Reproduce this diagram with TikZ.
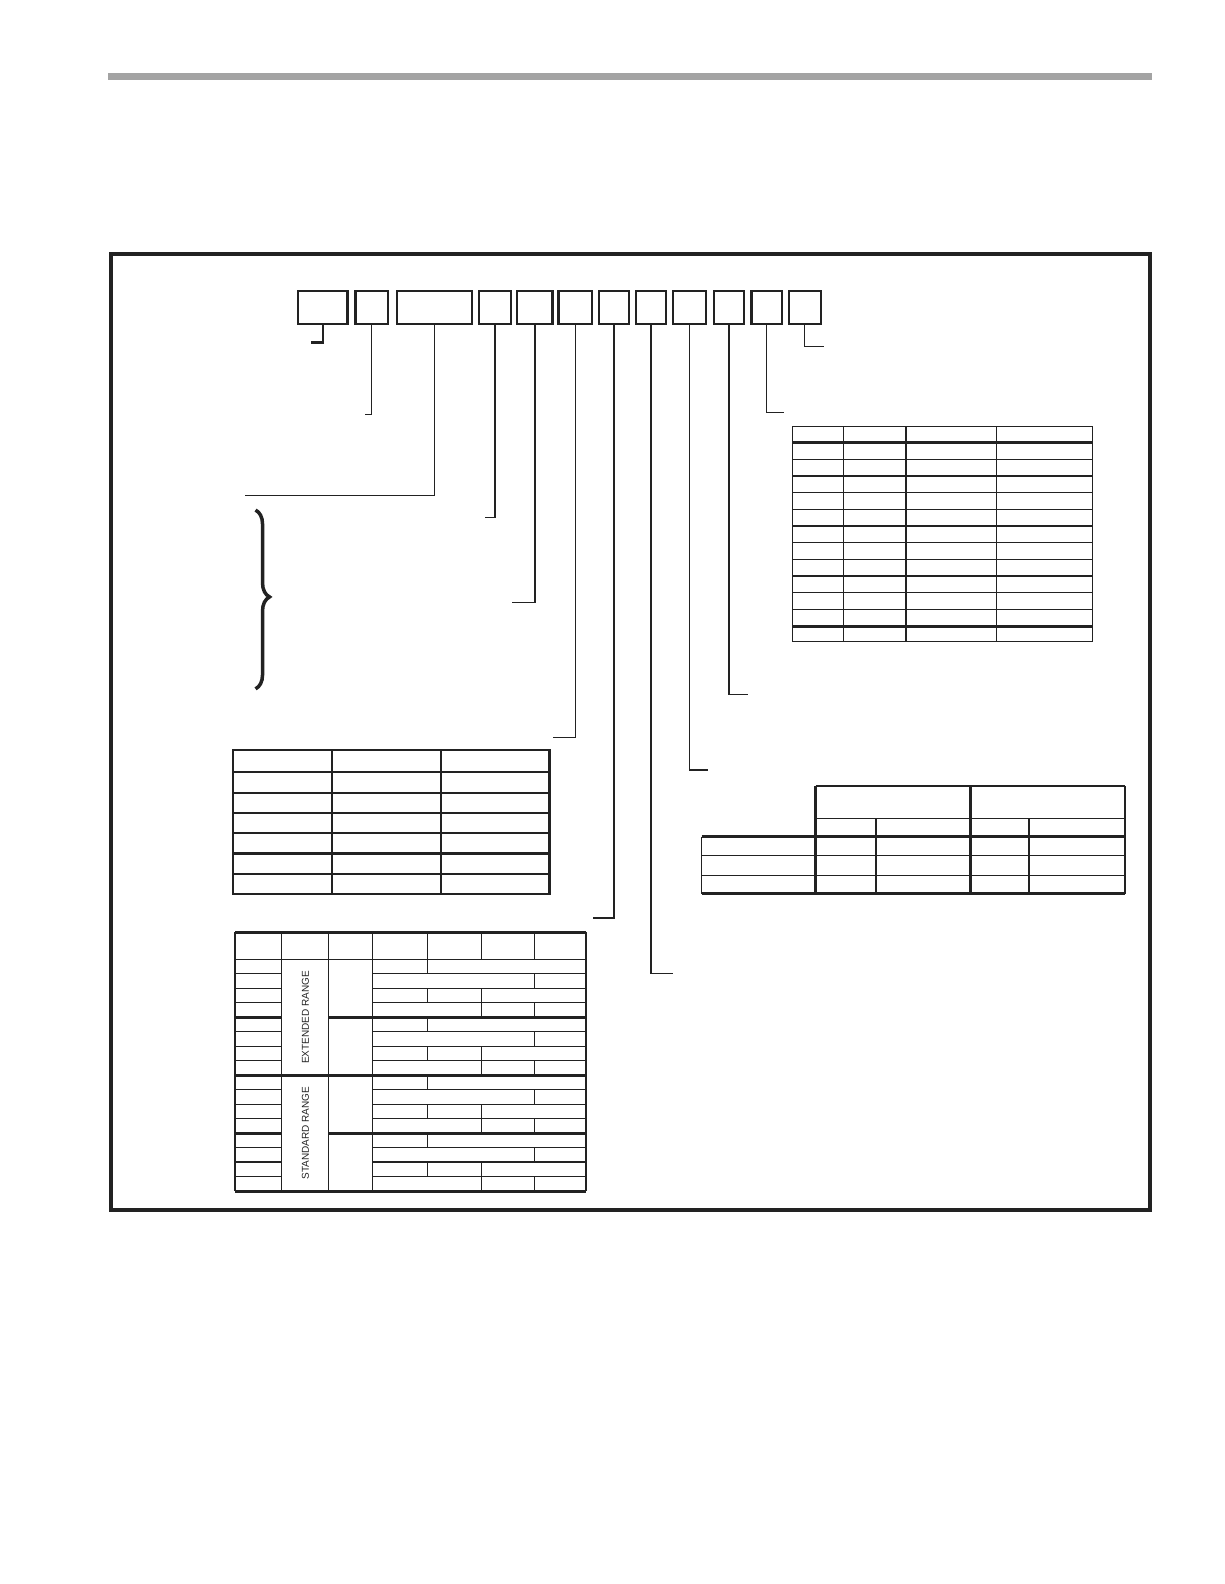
\documentclass[tikz,border=0pt]{standalone}
\usepackage{fontspec}
\setmainfont{Liberation Sans}
\usetikzlibrary{decorations.pathreplacing}
\definecolor{barGray}{RGB}{163,163,163}
\definecolor{ink}{RGB}{34,34,34}

\begin{document}
\begin{tikzpicture}[x=1.01pt, y=-1.01pt, ink,
    codebox/.style={draw, line width=2.2pt, minimum height=33.3pt, inner sep=0pt},
    lead/.style={line width=1.6pt},
    leadthin/.style={line width=1pt},
    leadthick/.style={line width=2.2pt},
    tline/.style={line width=1.2pt},
    tmed/.style={line width=2.2pt},
    tthick/.style={line width=3pt},
    rangetext/.style={rotate=90, font=\fontsize{10}{12}\selectfont}]
    \useasboundingbox (0,0) rectangle (1211.9,1568.3);

    % header bar
    \fill[barGray] (107,72) rectangle (1140.6,79);

    % outer frame
    \draw[line width=4pt] (110,251.5) rectangle (1138.6,1198);

    % code boxes
    \foreach \n/\cx/\w in {1/319.5/49.5, 2/368/32.3, 3/430/74.7, 4/490/32.3, 5/529.5/35.4, 6/569.5/33.3,
                           7/608/30.3, 8/644.5/29.3, 9/682.5/33.3, 10/722/30.3, 11/759/30.3, 12/797/32.3}
        \node[codebox, minimum width=\w pt] (pos\n) at (\cx,304.5) {};

    % leaders
    \foreach \n/\ex/\ey/\s in {1/308/339/leadthick, 2/361/410/leadthin, 3/243/490.5/lead, 4/480/512.5/lead,
                               5/507/596.5/lead, 6/548/730/leadthin, 7/587.5/909/lead, 8/666/964/lead,
                               9/701/762.5/lead, 10/740.5/687.5/lead, 11/776/408.5/lead, 12/815.5/343.5/leadthin}
        \draw[\s] (pos\n.south) |- (\ex,\ey);

    % brace
    \draw[line width=3.5pt, decorate, decoration={brace, amplitude=14pt, aspect=0.486}] (253,505) -- (253,682);

    % table top right
    \draw[tline] (785,422.4) rectangle (1082,635.3);
    \foreach \cx in {835,897,987} \draw[tline] (\cx,422.4) -- (\cx,635.3);
    \foreach \k in {1,...,10} \draw[tline] (785,{438.3+16.5*\k}) -- (1082,{438.3+16.5*\k});
    \draw[tthick] (785,438.3) -- (1082,438.3);
    \draw[tthick] (785,619.8) -- (1082,619.8);

    % table middle left
    \draw[tmed] (231,742.6) rectangle (544,885);
    \foreach \cx in {329,436.5} \draw[tmed] (\cx,742.6) -- (\cx,885);
    \foreach \cy in {764,785,805,825,845,865} \draw[tmed] (231,\cy) -- (544,\cy);

    % table middle right
    \draw[tline] (807.6,778.2) -- (1113.9,778.2);
    \draw[tline] (807.6,810.2) -- (1113.9,810.2);
    \draw[tline] (694.7,847.2) -- (1113.9,847.2);
    \draw[tline] (694.7,867) -- (1113.9,867);
    \draw[tthick] (694.7,828.4) -- (1113.9,828.4);
    \draw[tthick] (694.7,885.1) -- (1113.9,885.1);
    \draw[tline] (694.7,828.4) -- (694.7,885.1);
    \draw[tthick] (807.6,778.2) -- (807.6,885.1);
    \draw[tthick] (960.4,778.2) -- (960.4,885.1);
    \draw[tline] (1113.9,778.2) -- (1113.9,885.1);
    \draw[tline] (867.3,810.2) -- (867.3,885.1);
    \draw[tmed] (1018.8,810.2) -- (1018.8,885.1);

    % table bottom left
    \def\rh{14.34}
    \draw[tthick] (232.7,923) -- (580.2,923);
    \draw[tline] (232.7,949.8) -- (580.2,949.8);
    \draw[tthick] (232.7,1179.2) -- (580.2,1179.2);
    \draw[tmed] (232.7,923) -- (232.7,1179.2);
    \foreach \cx in {278.9,325,368.6,580.2} \draw[tline] (\cx,923) -- (\cx,1179.2);
    \foreach \cx in {423,477,529} \draw[tline] (\cx,923) -- (\cx,949.8);
    \foreach \k in {1,2,3,5,6,7,9,10,11,13,14,15} {
        \draw[tline] (232.7,{949.8+\rh*\k}) -- (278.9,{949.8+\rh*\k});
        \draw[tline] (368.6,{949.8+\rh*\k}) -- (580.2,{949.8+\rh*\k});
    }
    \foreach \k in {4,12} {
        \draw[tthick] (232.7,{949.8+\rh*\k}) -- (278.9,{949.8+\rh*\k});
        \draw[tthick] (325,{949.8+\rh*\k}) -- (580.2,{949.8+\rh*\k});
    }
    \draw[tthick] (232.7,{949.8+\rh*8}) -- (580.2,{949.8+\rh*8});
    \foreach \g in {0,...,3} {
        \pgfmathsetmacro\yb{949.8+4*\rh*\g}
        \draw[tline] (423,\yb) -- (423,{\yb+\rh});
        \draw[tline] (529,{\yb+\rh}) -- (529,{\yb+2*\rh});
        \draw[tline] (423,{\yb+2*\rh}) -- (423,{\yb+3*\rh});
        \draw[tline] (477,{\yb+2*\rh}) -- (477,{\yb+4*\rh});
        \draw[tline] (529,{\yb+3*\rh}) -- (529,{\yb+4*\rh});
    }
    \node[rangetext] (extrange) at (302.5,1007.5) {EXTENDED RANGE};
    \node[rangetext] (stdrange) at (302.5,1122) {STANDARD RANGE};
\end{tikzpicture}
\end{document}
